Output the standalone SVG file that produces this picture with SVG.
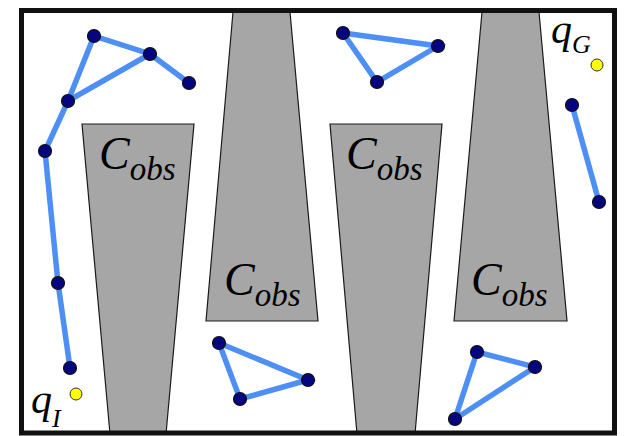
<svg xmlns="http://www.w3.org/2000/svg" width="625" height="436" viewBox="0 0 625 436">
<style>
.obs{fill:#a6a6a6;stroke:#1a1a1a;stroke-width:1.2}
.lbl{font-family:'Liberation Serif','Times New Roman','DejaVu Serif',serif;font-style:italic;fill:#000}
.big{font-size:46px}
.sub{font-size:33px}
.e{stroke:#4d8ff5;stroke-width:5.5;stroke-linecap:round;fill:none}
.n{fill:#05057f;stroke:#111;stroke-width:1.2}
.y{fill:#ffff00;stroke:#333;stroke-width:1}
</style>
<rect x="0" y="0" width="625" height="436" fill="#fff"/>
<g id="obstacles">
<g id="obs1"><polygon class="obs" points="82,124 194,124 166,434 110,434"/>
<text class="lbl" x="99" y="169"><tspan class="big">C</tspan><tspan class="sub" dy="11">obs</tspan></text></g>
<g id="obs2"><polygon class="obs" points="233,12 290,12 318,321 206,321"/>
<text class="lbl" x="224" y="295"><tspan class="big">C</tspan><tspan class="sub" dy="11">obs</tspan></text></g>
<g id="obs3"><polygon class="obs" points="330,124 442,124 415,434 357,434"/>
<text class="lbl" x="346" y="169"><tspan class="big">C</tspan><tspan class="sub" dy="11">obs</tspan></text></g>
<g id="obs4"><polygon class="obs" points="482,12 539,12 567,321 454,321"/>
<text class="lbl" x="471" y="295"><tspan class="big">C</tspan><tspan class="sub" dy="11">obs</tspan></text></g>
</g>
<rect x="21.5" y="10.5" width="593" height="422.5" fill="none" stroke="#111" stroke-width="5"/>
<g id="connectors">
<path class="e" d="M94,36 L150,54 L189,83 M94,36 L68,101 L150,54 M68,101 L45,151 L58,283 L70,368"/>
<path class="e" d="M343,33 L438,46 L377,82 Z"/>
<path class="e" d="M572,105 L599,202"/>
<path class="e" d="M219,343 L308,380 L240,399 Z"/>
<path class="e" d="M477,352 L535,367 L455,419 Z"/>
</g>
<g id="robot1">
<circle class="n" cx="94" cy="36" r="6.5"/><circle class="n" cx="150" cy="54" r="6.5"/><circle class="n" cx="189" cy="83" r="6.5"/><circle class="n" cx="68" cy="101" r="6.5"/><circle class="n" cx="45" cy="151" r="6.5"/><circle class="n" cx="58" cy="283" r="6.5"/><circle class="n" cx="70" cy="368" r="6.5"/>
</g>
<g id="robot2"><circle class="n" cx="343" cy="33" r="6.5"/><circle class="n" cx="438" cy="46" r="6.5"/><circle class="n" cx="377" cy="82" r="6.5"/></g>
<g id="robot3"><circle class="n" cx="572" cy="105" r="6.5"/><circle class="n" cx="599" cy="202" r="6.5"/></g>
<g id="robot4"><circle class="n" cx="219" cy="343" r="6.5"/><circle class="n" cx="308" cy="380" r="6.5"/><circle class="n" cx="240" cy="399" r="6.5"/></g>
<g id="robot5"><circle class="n" cx="477" cy="352" r="6.5"/><circle class="n" cx="535" cy="367" r="6.5"/><circle class="n" cx="455" cy="419" r="6.5"/></g>
<g id="qG"><circle class="y" cx="597" cy="65" r="6"/>
<text class="lbl" x="551" y="43"><tspan style="font-size:42px">q</tspan><tspan style="font-size:26px" dy="10">G</tspan></text></g>
<g id="qI"><circle class="y" cx="76" cy="394" r="6"/>
<text class="lbl" x="31" y="413"><tspan style="font-size:42px">q</tspan><tspan style="font-size:26px" dy="14">I</tspan></text></g>
</svg>
